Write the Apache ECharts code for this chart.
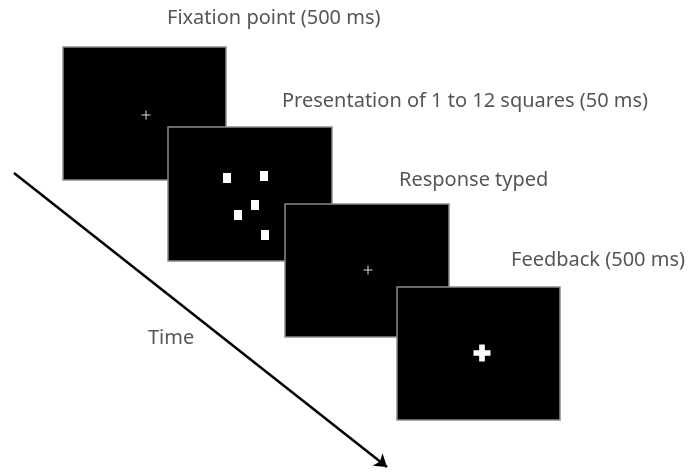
<!DOCTYPE html>
<html>
<head>
<meta charset="utf-8">
<script src="https://cdn.jsdelivr.net/npm/echarts@6/dist/echarts.min.js"></script>
<style>
  html, body { margin: 0; padding: 0; background: #fff; }
  #chart { width: 693px; height: 472px; }
</style>
</head>
<body>
<div id="chart"></div>
<script>
// screens: [x0, y0, x1, y1], back to front
var screens = [
  [63, 47, 226, 180],
  [168, 127, 332, 261],
  [285, 204, 449, 337],
  [397, 287, 560, 420]
]
// white squares shown in the second screen
var squares = [[227, 178], [264, 176], [255, 205], [238, 215], [265, 235]]
var thinCrosses = [[146, 115], [368, 270]]
var boldCrosses = [[482, 353]]
var captions = [
  ['Fixation point (500 ms)', 167, 18],
  ['Presentation of 1 to 12 squares (50 ms)', 282, 101],
  ['Response typed', 399, 180],
  ['Feedback (500 ms)', 511, 260],
  ['Time', 148, 338]
]
var timeArrow = [[14, 173], [387, 467]]

var chart = echarts.init(document.getElementById('chart'))

chart.setOption({
  backgroundColor: '#fff',
  animation: false,
  grid: { left: 0, right: 0, top: 0, bottom: 0 },
  xAxis: { type: 'value', min: 0, max: 693, show: false },
  yAxis: { type: 'value', min: 0, max: 472, inverse: true, show: false },
  series: [{
    type: 'lines',
    coordinateSystem: 'cartesian2d',
    symbol: ['none', 'arrow'],
    symbolSize: 12,
    z: 1,
    lineStyle: { color: '#000', width: 2.5, opacity: 1 },
    data: [{ coords: timeArrow }]
  }, {
    type: 'custom',
    z: 2,
    renderItem: function(params, api) {
      var p0 = api.coord([api.value(0), api.value(1)])
      var p1 = api.coord([api.value(2), api.value(3)])
      return {
        type: 'rect',
        z2: params.dataIndex,
        shape: { x: p0[0], y: p0[1], width: p1[0] - p0[0], height: p1[1] - p0[1] },
        style: { fill: '#000', stroke: '#8a8a8a', lineWidth: 1.5 }
      }
    },
    data: screens
  }, {
    type: 'scatter',
    z: 3,
    symbol: 'rect',
    symbolSize: [8, 10],
    itemStyle: { color: '#fff', opacity: 1 },
    data: squares
  }, {
    type: 'scatter',
    z: 3,
    symbol: 'path://M4,0h1v9h-1z M0,4h9v1h-9z',
    symbolSize: 9,
    itemStyle: { color: '#ddd', opacity: 1 },
    data: thinCrosses
  }, {
    type: 'scatter',
    z: 3,
    symbol: 'path://M6,0h6v6h6v6h-6v6h-6v-6h-6v-6h6z',
    symbolSize: 17,
    itemStyle: { color: '#fff', opacity: 1 },
    data: boldCrosses
  }, {
    type: 'scatter',
    z: 4,
    symbolSize: 0,
    label: {
      show: true,
      position: 'right',
      distance: 0,
      color: '#2a2a2a',
      fontFamily: 'Noto Sans',
      fontSize: 20,
      formatter: function(p) { return p.data[0] }
    },
    encode: { x: 1, y: 2 },
    data: captions
  }]
})
</script>
</body>
</html>
